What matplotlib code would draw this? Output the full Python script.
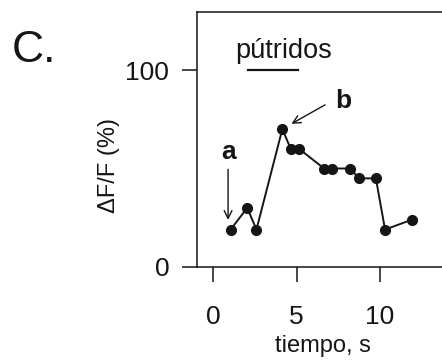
import matplotlib
matplotlib.use("Agg")
import matplotlib.pyplot as plt

plt.rcParams['font.family'] = ['Liberation Sans', 'DejaVu Sans']

tiempo = [1.05, 2.05, 2.6, 4.15, 4.65, 5.15, 6.65, 7.15, 8.2, 8.75, 9.75, 10.3, 11.9]
dff = [19, 30, 19, 70, 60, 60, 50, 50, 50, 45, 45, 19, 24]
xticks = [0, 5, 10]
yticks = [0, 100]

W, H = 442, 364
fig = plt.figure(figsize=(W / 100, H / 100), dpi=100)
ax = fig.add_axes([197 / W, 97 / H, 245 / W, 255.3 / H])

ink = '#151515'
ax.plot(tiempo, dff, color=ink, lw=1.4, marker='o', ms=7, mfc=ink, mec=ink, zorder=3)

ax.set_xlim(-0.96, 13.71)
ax.set_ylim(0, 129.6)
ax.set_xticks(xticks)
ax.set_yticks(yticks)
ax.tick_params(axis='both', direction='out', length=11, width=1.1, colors=ink, labelsize=19)
ax.tick_params(axis='x', pad=16)
ax.tick_params(axis='y', pad=9)
for s in ['left', 'top', 'bottom']:
    ax.spines[s].set_linewidth(1.1)
    ax.spines[s].set_color(ink)
ax.spines['right'].set_visible(False)

ax.set_ylabel('ΔF/F (%)', fontsize=17, color=ink, va='center')
ax.yaxis.set_label_coords(-0.36, 0.396)
ax.set_xlabel('tiempo, s', fontsize=17, color=ink, va='center')
ax.xaxis.set_label_coords(0.514, -0.309)

# stimulus label and bar
ax.text(4.2, 109.5, 'pútridos', fontsize=19.5, ha='center', va='center', color=ink)
ax.plot([2.1, 5.1], [100, 100], color=ink, lw=1.6, clip_on=False)

# annotations
ax.annotate('', xy=(0.9, 22.5), xytext=(0.9, 51),
            arrowprops=dict(arrowstyle='->', color=ink, lw=1.0, mutation_scale=14))
ax.text(0.9, 58.5, 'a', fontsize=19, fontweight='bold', ha='center', va='center', color=ink)
ax.annotate('', xy=(4.55, 72), xytext=(6.85, 83),
            arrowprops=dict(arrowstyle='->', color=ink, lw=1.0, mutation_scale=14))
ax.text(7.8, 84.5, 'b', fontsize=19, fontweight='bold', ha='center', va='center', color=ink)

fig.text(12 / W, 1 - 50 / H, 'C.', fontsize=32, ha='left', va='center', color=ink)

fig.savefig('out.png', dpi=100)
